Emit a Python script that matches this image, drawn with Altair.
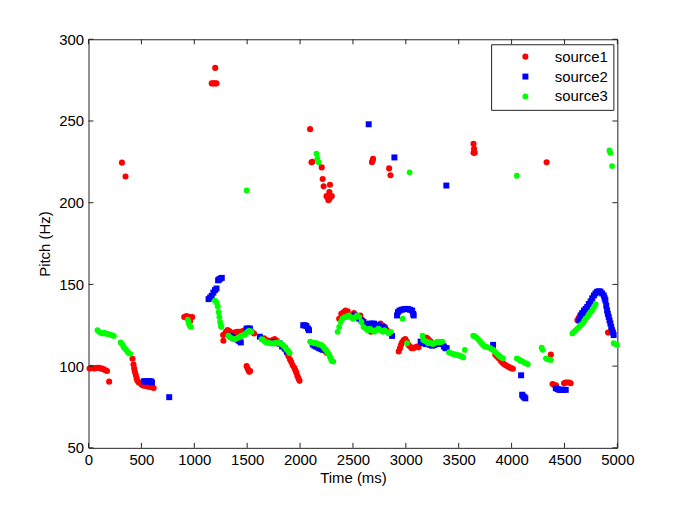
import altair as alt
import pandas as pd

# ---- data ----
s1_t = [10, 25, 40, 55, 70, 85, 100, 115, 130, 145, 160, 175, 195,
        316, 350,
        416, 425, 432, 438, 447, 455, 462, 475, 491, 505, 520, 538, 555, 570, 584, 600, 616,
        905, 920, 935, 950, 965, 980, 960,
        1165, 1180, 1195, 1210, 1198,
        1273, 1275, 1285, 1300, 1315, 1330, 1345, 1360, 1375, 1390, 1405, 1420, 1440, 1460, 1480, 1500, 1520, 1545, 1565,
        1495, 1505, 1512, 1520, 1528,
        1660, 1680, 1700, 1720, 1740, 1760, 1780, 1800, 1820, 1840, 1860, 1875, 1890, 1905, 1917, 1930, 1945, 1955, 1965, 1975, 1985, 1995,
        2095, 2108, 2117, 2205, 2214, 2223, 2277, 2283, 2250, 2262, 2268, 2275, 2290, 2300,
        2210, 2225, 2240, 2255,
        2370, 2390, 2410, 2430, 2450, 2470, 2490, 2510, 2530, 2550, 2570, 2590, 2610, 2630, 2650, 2670, 2700, 2730, 2760, 2780, 2800, 2820,
        2680, 2685, 2690, 2842, 2855,
        2933, 2945, 2955, 2965, 2980, 2995, 3010, 3025, 3040, 3055, 3070, 3090, 3105, 3120,
        3175, 3190, 3205, 3220, 3235,
        3640, 3645, 3640, 3652,
        3846, 3860, 3875, 3887, 3900, 3918, 3935, 3949, 3965, 3980, 3995, 4012,
        4331,
        4371, 4387, 4400, 4420, 4496, 4510, 4525, 4545, 4559,
        4622, 4635, 4650, 4665, 4680,
        4912]
s1_f = [98.5, 99, 98.8, 98.5, 98.8, 99, 99, 98.5, 98.5, 98, 97.5, 97, 90.5,
        224.5, 216,
        104.5, 101, 98.5, 96.5, 94.5, 92.5, 91, 90, 89.5, 88.5, 88, 88, 87.5, 87.5, 87.3, 87, 86.6,
        130, 130.5, 130.5, 130, 129.5, 130, 127.5,
        273, 273, 273, 273, 282.5,
        119, 115.5, 119.5, 121, 122, 121.5, 120.5, 120, 120.5, 120.5, 121, 121, 121, 121.5, 122, 122.5, 122, 121, 120,
        100, 98.5, 97.5, 96.5, 97,
        117, 116, 115.5, 115, 116, 116.5, 115.5, 114, 113, 112, 110, 108, 106, 104, 102.5, 100.5, 99, 97.5, 96, 94, 92.5, 91,
        245, 224.7, 225, 221.6, 214.5, 210, 206.5, 211, 204, 203, 201.5, 202, 203.5, 204,
        111, 110, 109, 108,
        129, 132, 133, 134, 133.5, 131, 131, 132.5, 131, 130, 131, 128, 126, 124, 123, 121, 124, 125, 126, 125, 124, 122,
        224.8, 225.5, 226.8, 221, 216.8,
        109, 111, 113, 114.5, 116, 116.5, 115, 113, 112, 111, 111, 111.5, 112, 111.5,
        117, 117.5, 117, 116, 115,
        236, 233, 230.5, 230.5,
        107, 106, 105, 104.5, 103, 101.8, 101, 100.4, 99.8, 99.2, 98.8, 98.4,
        224.7,
        107, 89, 88.5, 88.3, 89.5, 90, 90, 90, 89.5,
        128, 129.5, 131, 132, 132.5,
        120.5]

s2_t = [523, 535, 548, 560, 575, 590, 600, 763,
        1135, 1150, 1165, 1180, 1195, 1210, 1225, 1235, 1245, 1260,
        1338, 1350, 1370, 1385, 1400, 1415, 1426, 1440, 1495, 1510, 1526,
        1620, 1745, 1765, 1785, 1807, 1830, 1854, 1876,
        2030, 2045, 2060, 2075, 2085,
        2120, 2135, 2151, 2168, 2183, 2200, 2214,
        2649,
        2520, 2540, 2560, 2580, 2600, 2620, 2640, 2660, 2680, 2700, 2720, 2740, 2760, 2780, 2800, 2870,
        2892,
        2917, 2925, 2940, 2960, 2980, 3000, 3020, 3040, 3060, 3070, 3074,
        3140, 3155, 3170, 3190, 3210, 3230, 3250, 3270, 3290, 3310, 3330, 3345, 3360, 3375, 3386,
        3383,
        3825, 4090, 4100, 4110, 4120, 4130,
        4418, 4435, 4450, 4465, 4480, 4495, 4512,
        4640, 4653, 4668, 4684, 4700, 4715, 4730, 4747, 4762, 4778, 4793, 4809, 4825, 4840, 4856, 4872,
        4880, 4887, 4895, 4903, 4910, 4918, 4926, 4934, 4942, 4950, 4958, 4965]
s2_f = [90.7, 90.7, 90.7, 90.7, 90.7, 90.7, 90, 81,
        141, 142, 143, 145, 146.5, 147.5, 152.5, 153, 153.5, 154,
        118.6, 118, 117.4, 117, 116.5, 116, 115.3, 114.5, 123, 123, 123,
        118, 114.5, 114.5, 114, 113.9, 112, 110.9, 108.9,
        125, 125, 124.5, 123, 122,
        113.3, 112.5, 112, 111.5, 110.9, 110.5, 110,
        248,
        131, 130, 129, 128, 127, 125, 125, 126, 126, 126, 125, 125, 124, 124, 123, 118.5,
        227.7,
        131, 133, 134, 134.5, 134.8, 135, 135, 134.5, 134, 132, 131,
        115, 114.5, 114, 113.5, 113.5, 113, 112.5, 113, 113.5, 114, 114.5, 113.5, 112, 111, 111,
        210.5,
        113, 94.4, 82.5, 81.5, 81, 80.3,
        86.5, 86, 85.5, 85.5, 85.5, 85.5, 85.5,
        128, 131, 132.5, 134, 135, 136.2, 138, 139.6, 141.5, 143.2, 144.5, 145.5, 145.8, 145.6, 144.5, 143.2,
        141.5, 140.2, 137, 134.1, 132, 130.1, 128, 126.1, 124, 122, 120.5, 119]

s3_t = [85, 100, 115, 130, 145, 160, 175, 190, 205, 220, 240,
        303, 318, 330, 342, 355, 368, 380, 395,
        938, 945, 952, 960, 968,
        1195, 1210, 1222, 1230, 1237, 1244, 1250, 1256,
        1495,
        1323, 1338, 1354, 1370, 1385, 1400, 1417, 1432, 1448, 1463, 1479, 1495, 1510, 1525, 1541,
        1636, 1651, 1667, 1682, 1698, 1714, 1730, 1745, 1760, 1776, 1792, 1808, 1820, 1832, 1845, 1858, 1870, 1885, 1895, 1901,
        2095, 2110, 2125, 2140, 2155, 2170, 2185, 2198, 2210, 2222, 2235, 2245, 2255, 2265, 2277, 2285, 2293, 2302, 2315,
        2155, 2164, 2176,
        2355, 2370, 2385, 2400, 2420, 2440, 2460, 2480, 2500, 2520, 2540, 2560, 2580, 2600, 2620, 2640, 2660, 2680,
        2700, 2720, 2740, 2760, 2780, 2800, 2820, 2840, 2860,
        2970, 3036, 3011,
        3158, 3165, 3180, 3195, 3210, 3225, 3240, 3255, 3270, 3285, 3300, 3315, 3330, 3345,
        3408, 3425, 3440, 3455, 3470, 3485, 3500, 3515, 3530, 3543, 3558,
        3637, 3650, 3665, 3677, 3690, 3703, 3715, 3730, 3746, 3760, 3775, 3793, 3810, 3825, 3840, 3855, 3871, 3885, 3900, 3918,
        4050,
        4049, 4065, 4078, 4090, 4105, 4121, 4137, 4153,
        4284, 4294,
        4325, 4340, 4355, 4371,
        4575, 4590, 4605, 4622, 4638, 4654, 4669, 4685, 4700, 4716, 4730, 4745, 4762, 4778, 4794,
        4925, 4934, 4950,
        4965, 4980, 4997]
s3_f = [122, 121, 120.5, 120, 120.5, 120, 119.8, 119.5, 119.3, 119, 118.5,
        114.5, 113.5, 112, 111, 110, 109, 108, 107.5,
        128.5, 127, 125.5, 124.5, 124,
        140, 139, 136.5, 133, 130, 127, 125, 124,
        207.5,
        118.6, 117.8, 117, 116.5, 116.5, 117, 117.4, 118, 118.6, 119, 119.4, 120.5, 121.4, 121.5, 121,
        116.5, 116, 115, 114.5, 114.3, 114, 113.9, 113.9, 114, 114.3, 114.5, 114, 113.5, 113.3, 112.5, 111.5, 110.5, 109.5, 108.5, 108,
        115, 114.5, 114.3, 114, 114, 113.5, 113.3, 113, 112.5, 111.5, 110.5, 110, 109, 108, 107, 105.5, 104, 103, 102.8,
        230, 227, 224.7,
        121, 124, 127, 129, 130, 130, 131, 130, 129, 130, 131, 130, 127, 124, 123, 122, 123, 122,
        121, 122, 123, 122, 121, 122, 121, 120, 121,
        129, 218.6, 114,
        118.6, 116, 115.5, 115, 114, 114.5, 114, 113.5, 114, 114.5, 115, 114.5, 114.8, 115,
        108.5, 108, 107.5, 107.3, 107, 106.8, 106.5, 106.3, 106, 105.3, 109.9,
        118.6, 118.4, 117.6, 117, 116, 115, 114, 113, 112, 111.8, 111.5, 111.3, 110.5, 109.9, 109, 108, 107, 106.2, 105.5, 104.8,
        216.5,
        104.8, 104.2, 103.6, 103.2, 102.8, 102.2, 101.7, 101.2,
        111.3, 110,
        104.8, 104.3, 104, 103.8,
        120, 121, 122, 123, 124, 125, 126, 127.5, 129, 130, 131.5, 133, 134, 136, 138,
        232, 230.5, 222.4,
        114, 113.5, 113]

sources = ["source1", "source2", "source3"]
colors = ["#ff0000", "#0000ff", "#00ff00"]
shapes = ["circle", "square", "circle"]
sizes = [38, 34, 10]

x_ticks = [0, 500, 1000, 1500, 2000, 2500, 3000, 3500, 4000, 4500, 5000]
y_ticks = [50, 100, 150, 200, 250, 300]

# ---- build table ----
frames = []
for name, tt, ff in zip(sources, [s1_t, s2_t, s3_t], [s1_f, s2_f, s3_f]):
    frames.append(pd.DataFrame({"t": tt, "f": ff, "src": name}))
df = pd.concat(frames, ignore_index=True)
df["ord"] = range(len(df))

W, H = 532, 411
FONT = "Liberation Sans"

xscale = alt.Scale(domain=[0, 5000], nice=False, zero=False)
yscale = alt.Scale(domain=[50, 300], nice=False, zero=False)
xaxis = alt.Axis(title="Time (ms)", values=x_ticks, format="d", labelFlush=False, labelOverlap=False)
yaxis = alt.Axis(title="Pitch (Hz)", values=y_ticks, format="d", labelFlush=False, labelOverlap=False)

points = alt.Chart(df).mark_point(filled=True, opacity=1, strokeWidth=0).encode(
    x=alt.X("t:Q", scale=xscale, axis=xaxis),
    y=alt.Y("f:Q", scale=yscale, axis=yaxis),
    color=alt.Color("src:N", scale=alt.Scale(domain=sources, range=colors),
                    legend=alt.Legend(title=None, orient="none", legendX=405, legendY=5,
                                      strokeColor="#222", fillColor="white", padding=5,
                                      symbolOffset=22, labelOffset=22, rowPadding=4,
                                      labelFont=FONT, labelFontSize=15, labelColor="#000")),
    shape=alt.Shape("src:N", scale=alt.Scale(domain=sources, range=shapes)),
    size=alt.Size("src:N", scale=alt.Scale(domain=sources, range=sizes)),
    order=alt.Order("ord:Q"),
)

xt = pd.DataFrame({"t": x_ticks})
yt = pd.DataFrame({"f": y_ticks})
tick_col = "#222"
xtop = alt.Chart(xt).mark_rule(color=tick_col).encode(
    x=alt.X("t:Q", scale=xscale, axis=xaxis), y=alt.value(0), y2=alt.value(5))
xbot = alt.Chart(xt).mark_rule(color=tick_col).encode(
    x=alt.X("t:Q", scale=xscale, axis=xaxis), y=alt.value(H - 5), y2=alt.value(H))
yleft = alt.Chart(yt).mark_rule(color=tick_col).encode(
    y=alt.Y("f:Q", scale=yscale, axis=yaxis), x=alt.value(0), x2=alt.value(5))
yright = alt.Chart(yt).mark_rule(color=tick_col).encode(
    y=alt.Y("f:Q", scale=yscale, axis=yaxis), x=alt.value(W - 5), x2=alt.value(W))

chart = alt.layer(points, xtop, xbot, yleft, yright).properties(
    width=W, height=H,
    autosize=alt.AutoSizeParams(type="none"),
    padding={"left": 81, "top": 30, "right": 60, "bottom": 50},
).configure_view(
    stroke="#222", strokeWidth=1
).configure_axis(
    grid=False, domain=False, ticks=False, labelPadding=5,
    labelFont=FONT, labelFontSize=15, labelColor="#000",
    titleFont=FONT, titleFontSize=15, titleFontWeight="normal", titleColor="#000",
).configure_axisX(titlePadding=3).configure_axisY(titlePadding=6)

chart.save("out.html", embed_options={"renderer": "svg", "actions": False})
